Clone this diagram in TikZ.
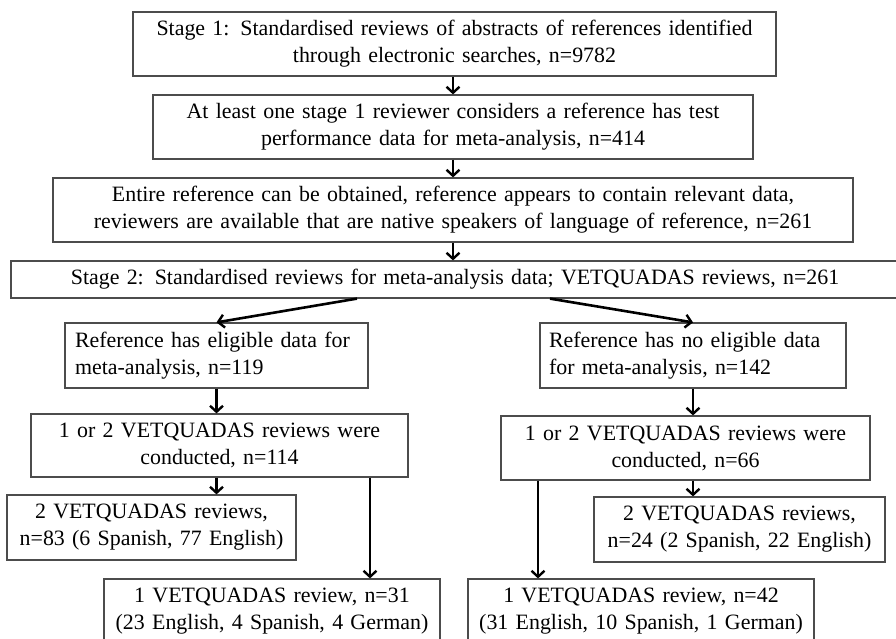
\documentclass[tikz,border=0pt]{standalone}
\usepackage{fontspec}
\setmainfont{Liberation Serif}
\usetikzlibrary{arrows.meta}
\begin{document}
\begin{tikzpicture}[x=1pt,y=-1pt,
  box/.style={draw=black!70, line width=1.2pt, rectangle, inner sep=0pt, align=center,
    font=\fontsize{21.9}{27}\selectfont},
  lbox/.style={box, align=left},
  arr/.style={line width=2.6pt, -{Straight Barb[length=6pt,width=13pt,line width=2.4pt]}}]
\useasboundingbox (0,0) rectangle (896,638);
\clip (0,0) rectangle (896,638);
\fill[white] (0,0) rectangle (896,638);

\node[box, minimum width=643, minimum height=64, text width=643] (b1) at (454.5,44)
  {Stage 1: Standardised reviews of abstracts of references identified\\ through electronic searches, n=9782};
\node[box, minimum width=600, minimum height=64, text width=600] (b2) at (453,127)
  {At least one stage 1 reviewer considers a reference has test\\ performance data for meta-analysis, n=414};
\node[box, minimum width=800, minimum height=64, text width=800] (b3) at (453,210)
  {Entire reference can be obtained, reference appears to contain relevant data,\\ reviewers are available that are native speakers of language of reference, n=261};
\node[box, minimum width=888, minimum height=37, text width=888] (b4) at (455,279.5)
  {Stage 2: Standardised reviews for meta-analysis data; VETQUADAS reviews, n=261};

\node[lbox, minimum width=303, minimum height=65, text width=283] (b5) at (216.5,355.5)
  {Reference has eligible data for\\ meta-analysis, n=119};
\node[box, minimum width=377, minimum height=63, text width=377] (b6) at (219.5,445.5)
  {1 or 2 VETQUADAS reviews were\\ conducted, n=114};
\node[box, minimum width=289, minimum height=65, text width=289] (b7) at (151.5,527.5)
  {2 VETQUADAS reviews,\\ n=83 (6 Spanish, 77 English)};
\node[box, minimum width=336, minimum height=65, text width=336] (b8) at (272,611.5)
  {1 VETQUADAS review, n=31\\ (23 English, 4 Spanish, 4 German)};

\node[lbox, minimum width=306, minimum height=65, text width=288] (b9) at (693,355.5)
  {Reference has no eligible data\\ for meta-analysis, n=142};
\node[box, minimum width=369, minimum height=64, text width=369] (b10) at (685.5,448)
  {1 or 2 VETQUADAS reviews were\\ conducted, n=66};
\node[box, minimum width=291, minimum height=65, text width=291] (b11) at (739.5,529.5)
  {2 VETQUADAS reviews,\\ n=24 (2 Spanish, 22 English)};
\node[box, minimum width=346, minimum height=65, text width=346] (b12) at (641,611.5)
  {1 VETQUADAS review, n=42\\ (31 English, 10 Spanish, 1 German)};

\coordinate (xl) at (357,0);
\coordinate (xr) at (550,0);
\coordinate (x6) at (370,0);
\coordinate (x10) at (538,0);

\draw[arr] (b1.south -| b2.north) -- (b2.north);
\draw[arr] (b2.south) -- (b3.north -| b2.south);
\draw[arr] (b3.south) -- (b4.north -| b3.south);
\draw[arr] (b4.south -| xl) -- (b5.north);
\draw[arr] (b4.south -| xr) -- (b9.north);
\draw[arr] (b5.south) -- (b6.north -| b5.south);
\draw[arr] (b6.south -| b5.south) -- (b7.north -| b5.south);
\draw[arr] (b6.south -| x6) -- (b8.north -| x6);
\draw[arr] (b9.south) -- (b10.north -| b9.south);
\draw[arr] (b10.south -| b9.south) -- (b11.north -| b9.south);
\draw[arr] (b10.south -| x10) -- (b12.north -| x10);
\end{tikzpicture}
\end{document}
